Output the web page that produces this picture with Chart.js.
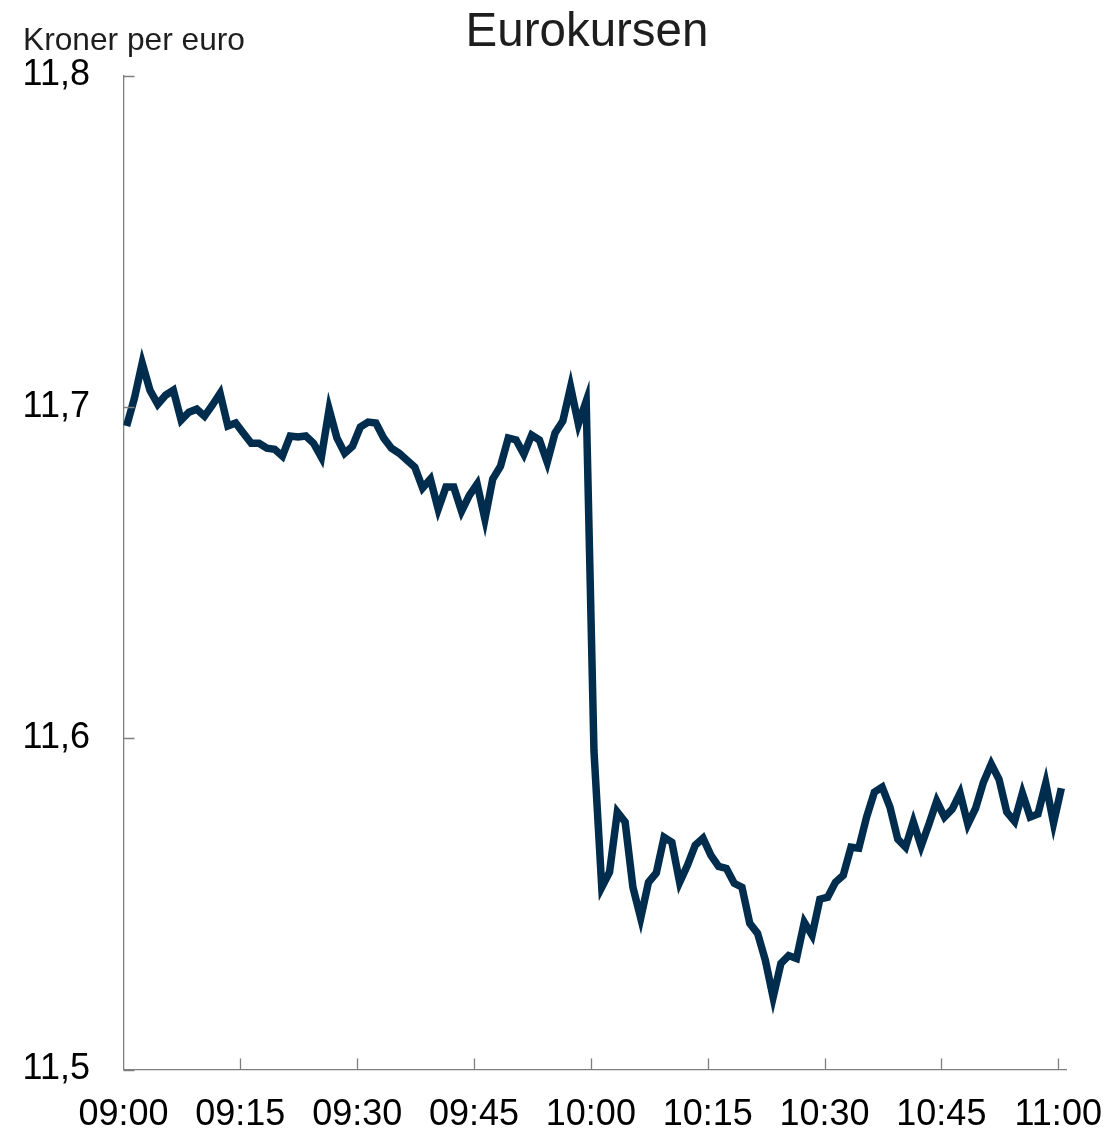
<!DOCTYPE html>
<html>
<head>
<meta charset="utf-8">
<script src="https://cdn.jsdelivr.net/npm/chart.js@4/dist/chart.umd.min.js"></script>
<style>
  html, body { margin: 0; padding: 0; background: #ffffff; }
  #wrap { position: relative; width: 1115px; height: 1131px; }
  canvas { display: block; }
</style>
</head>
<body>
<div id="wrap"><canvas id="c" width="1115" height="1131"></canvas></div>
<script>
// ---- Data ----
const chartTitle = "Eurokursen";
const unitLabel = "Kroner per euro";
// minutes after 09:00 of the first observation; one observation per minute
const firstObsOffsetMin = 0.4;
const eurNok = [
  11.6942, 11.7026, 11.7132, 11.7050, 11.7008, 11.7035, 11.7050, 11.6960, 11.6984, 11.6993,
  11.6972, 11.7005, 11.7041, 11.6942, 11.6951, 11.6920, 11.6890, 11.6890, 11.6875, 11.6872,
  11.6851, 11.6912, 11.6909, 11.6912, 11.6890, 11.6848, 11.6993, 11.6906, 11.6860, 11.6881,
  11.6939, 11.6954, 11.6951, 11.6906, 11.6875, 11.6860, 11.6839, 11.6818, 11.6755, 11.6782,
  11.6691, 11.6758, 11.6758, 11.6685, 11.6733, 11.6767, 11.6661, 11.6782, 11.6821, 11.6906,
  11.6900, 11.6857, 11.6915, 11.6900, 11.6833, 11.6921, 11.6957, 11.7060, 11.6948, 11.7017,
  11.5961, 11.5550, 11.5596, 11.5777, 11.5747, 11.5550, 11.5457, 11.5565, 11.5593, 11.5701,
  11.5686, 11.5565, 11.5616, 11.5677, 11.5698, 11.5647, 11.5613, 11.5607, 11.5562, 11.5550,
  11.5441, 11.5411, 11.5330, 11.5218, 11.5320, 11.5344, 11.5335, 11.5444, 11.5405, 11.5514,
  11.5520, 11.5565, 11.5586, 11.5671, 11.5668, 11.5762, 11.5837, 11.5852, 11.5792, 11.5695,
  11.5671, 11.5747, 11.5674, 11.5740, 11.5810, 11.5762, 11.5786, 11.5834, 11.5740, 11.5789,
  11.5867, 11.5922, 11.5876, 11.5777, 11.5749, 11.5834, 11.5762, 11.5771, 11.5864, 11.5744,
  11.5849
];
const xTickMinutes = [0, 15, 30, 45, 60, 75, 90, 105, 120];
const xTickLabels = ["09:00", "09:15", "09:30", "09:45", "10:00", "10:15", "10:30", "10:45", "11:00"];
const yTickValues = [11.5, 11.6, 11.7, 11.8];
const yTickLabels = ["11,5", "11,6", "11,7", "11,8"];

const points = eurNok.map((v, i) => ({ x: firstObsOffsetMin + i, y: v }));

const AXIS_COLOR = '#7f7f7f';
const FONT = '"Liberation Sans", Arial, Helvetica, sans-serif';

const decorPlugin = {
  id: 'decor',
  afterDraw(chart) {
    const ctx = chart.ctx;
    const xs = chart.scales.x, ys = chart.scales.y;
    ctx.save();
    // inward tick marks
    ctx.strokeStyle = AXIS_COLOR;
    ctx.lineWidth = 1.3;
    ctx.beginPath();
    yTickValues.forEach(v => {
      const py = Math.round(ys.getPixelForValue(v)) + 0.5;
      ctx.moveTo(xs.left, py);
      ctx.lineTo(xs.left + 11, py);
    });
    xTickMinutes.forEach(m => {
      if (m === 0) return;
      const px = Math.round(xs.getPixelForValue(m)) + 0.5;
      ctx.moveTo(px, ys.bottom);
      ctx.lineTo(px, ys.bottom - 11);
    });
    ctx.stroke();
    // title and unit label
    ctx.fillStyle = '#1e1e1e';
    ctx.textBaseline = 'alphabetic';
    ctx.font = '47.5px ' + FONT;
    ctx.textAlign = 'center';
    ctx.fillText(chartTitle, 587, 46);
    ctx.font = '31.7px ' + FONT;
    ctx.textAlign = 'left';
    ctx.fillText(unitLabel, 23, 50);
    ctx.restore();
  }
};

new Chart(document.getElementById('c'), {
  type: 'line',
  data: {
    datasets: [{
      data: points,
      borderColor: '#002d4d',
      borderWidth: 7.5,
      pointRadius: 0,
      tension: 0,
      fill: false
    }]
  },
  options: {
    responsive: false,
    animation: false,
    devicePixelRatio: 1,
    layout: { padding: { top: 75.5, right: 49, bottom: 0, left: 0 } },
    plugins: { legend: { display: false }, title: { display: false }, tooltip: { enabled: false } },
    scales: {
      x: {
        type: 'linear',
        min: 0,
        max: 121,
        afterBuildTicks: (s) => { s.ticks = xTickMinutes.map(v => ({ value: v })); },
        afterFit: (s) => { s.height = 1131 - 1069.5; s.paddingLeft = 0; s.paddingRight = 0; },
        grid: { display: false, drawTicks: false, tickLength: 0 },
        border: { display: true, color: AXIS_COLOR, width: 1.3 },
        ticks: {
          autoSkip: false,
          maxRotation: 0,
          padding: 24,
          color: '#000000',
          font: { family: FONT, size: 36 },
          callback: (v) => { const k = xTickMinutes.indexOf(v); return k >= 0 ? xTickLabels[k] : ''; }
        }
      },
      y: {
        min: 11.5,
        max: 11.8,
        afterBuildTicks: (s) => { s.ticks = yTickValues.map(v => ({ value: v })); },
        afterFit: (s) => { s.width = 123.5; s.paddingTop = 0; s.paddingBottom = 0; },
        grid: { display: false, drawTicks: false, tickLength: 0 },
        border: { display: true, color: AXIS_COLOR, width: 1.3 },
        ticks: {
          padding: 33.5,
          color: '#000000',
          font: { family: FONT, size: 36 },
          callback: (v) => { const k = yTickValues.findIndex(t => Math.abs(t - v) < 1e-6); return k >= 0 ? yTickLabels[k] : ''; }
        }
      }
    }
  },
  plugins: [decorPlugin]
});
</script>
</body>
</html>
